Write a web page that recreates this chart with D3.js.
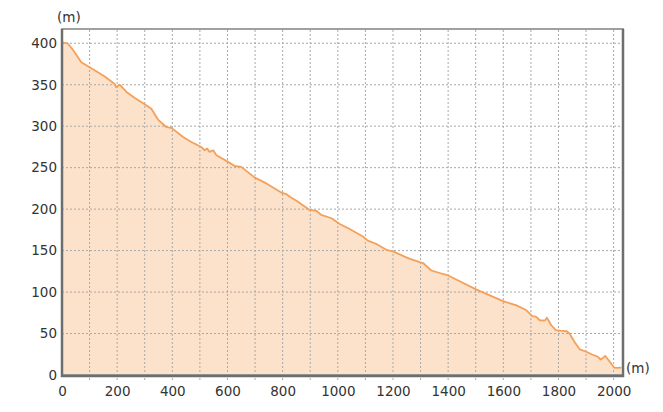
<!DOCTYPE html>
<html>
<head>
<meta charset="utf-8">
<script src="https://cdn.jsdelivr.net/npm/d3@7"></script>
<style>
  body { margin: 0; background: #fff; }
  svg text { font-family: "DejaVu Sans", Verdana, sans-serif; font-size: 13.5px; fill: #333; }
</style>
</head>
<body>
<svg id="chart" width="663" height="412"></svg>
<script>
// distance along route (m) and elevation (m)
let distances = [0, 20, 40, 70, 100, 130, 155, 191, 197, 209, 235, 264, 297, 324, 348, 378, 397,
  439, 469, 505, 517, 526, 535, 548, 560, 602, 626, 650, 699, 741, 795, 814, 826, 856, 868,
  898, 922, 940, 977, 1007, 1043, 1091, 1109, 1140, 1176, 1200, 1261, 1297, 1309, 1339, 1369,
  1400, 1442, 1503, 1551, 1599, 1648, 1684, 1705, 1718, 1732, 1750, 1758, 1774, 1790, 1805,
  1829, 1841, 1859, 1877, 1901, 1920, 1943, 1953, 1970, 1986, 2002, 2010, 2028];
let elevations = [401, 400, 392, 377, 371, 365, 360, 351, 347, 350, 341, 334, 327, 321, 308, 299, 298,
  287, 281, 275, 271, 273, 269, 271, 265, 257, 252, 251, 238, 231, 220, 218, 215, 209, 206,
  199, 198, 193, 189, 182, 176, 167, 162, 158, 151, 149, 140, 136, 135, 126, 123,
  120, 113, 103, 96, 89, 84, 78, 71, 70.5, 66, 65.5, 69, 60, 54, 53.5,
  53, 49.5, 39.5, 31, 28, 25, 22, 18.5, 23, 16, 9, 8.5, 9];

let xTicks = [0, 200, 400, 600, 800, 1000, 1200, 1400, 1600, 1800, 2000];
let yTicks = [0, 50, 100, 150, 200, 250, 300, 350, 400];
let xGrid = d3.range(0, 2001, 100);

const points = distances.map((d, i) => ({ x: d, y: elevations[i] }));

let canvas = d3.select("#chart");
const plotLeft = 62, plotRight = 623, plotTop = 30, plotBottom = 375;

let x = d3.scaleLinear().domain([0, 2034]).range([plotLeft, plotRight]);
let y = d3.scaleLinear().domain([0, 416]).range([plotBottom, plotTop]);

let g = canvas.append("g");

// area under profile
g.append("path")
  .datum(points)
  .attr("fill", "#fde2cb")
  .attr("d", d3.area().x(d => x(d.x)).y0(y(0)).y1(d => y(d.y)));

// grid
g.selectAll(".vgrid")
  .data(xGrid.filter(v => v > 0))
  .enter()
  .append("line")
  .attr("x1", d => x(d)).attr("x2", d => x(d))
  .attr("y1", plotTop).attr("y2", plotBottom + 5)
  .attr("stroke", "#a8a8a8")
  .attr("stroke-dasharray", "2,2");

g.selectAll(".hgrid")
  .data(yTicks.filter(v => v > 0))
  .enter()
  .append("line")
  .attr("x1", plotLeft).attr("x2", plotRight)
  .attr("y1", d => y(d)).attr("y2", d => y(d))
  .attr("stroke", "#a8a8a8")
  .attr("stroke-dasharray", "2,2");

// profile line
g.append("path")
  .datum(points)
  .attr("fill", "none")
  .attr("stroke", "#f4a05a")
  .attr("stroke-width", 1.8)
  .attr("stroke-linejoin", "round")
  .attr("d", d3.line().x(d => x(d.x)).y(d => y(d.y)));

// frame
g.append("rect")
  .attr("x", plotLeft).attr("y", plotTop - 1)
  .attr("width", plotRight - plotLeft).attr("height", plotBottom - plotTop + 1)
  .attr("fill", "none")
  .attr("stroke", "#a0a0a0")
  .attr("stroke-width", 2);
g.append("path")
  .attr("d", `M${plotLeft},${plotTop - 1}V${plotBottom + 1}H${plotRight}V${plotTop - 1}`)
  .attr("fill", "none")
  .attr("stroke", "#6e6e6e")
  .attr("stroke-width", 2.5);

// axes (labels only)
let xAxis = d3.axisBottom(x).tickValues(xTicks).tickFormat(d3.format("d")).tickSize(0).tickPadding(10);
canvas.append("g")
  .attr("transform", `translate(0,${plotBottom + 1})`)
  .call(xAxis)
  .call(a => a.select(".domain").remove())
  .selectAll("text").attr("fill", "#333");

let yAxis = d3.axisLeft(y).tickValues(yTicks).tickFormat(d3.format("d")).tickSize(0).tickPadding(5);
canvas.append("g")
  .attr("transform", `translate(${plotLeft},0)`)
  .call(yAxis)
  .call(a => a.select(".domain").remove())
  .selectAll("text").attr("fill", "#333");

// unit labels
canvas.append("text").attr("x", 57).attr("y", 22).text("(m)");
canvas.append("text").attr("x", 626).attr("y", 373).text("(m)");
</script>
</body>
</html>
